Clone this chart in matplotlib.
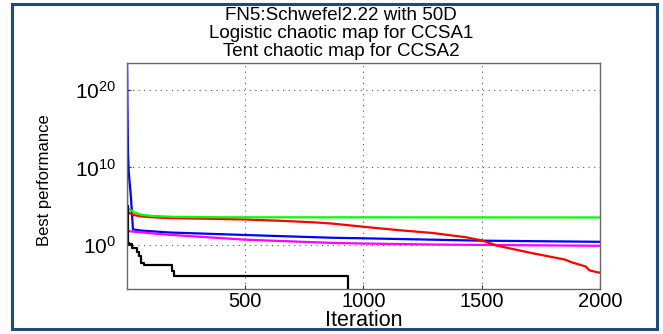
import matplotlib
matplotlib.use('Agg')
import matplotlib.pyplot as plt
from matplotlib.patches import Rectangle
from matplotlib.ticker import FixedLocator, NullLocator

plt.rcParams['font.family'] = ['Liberation Sans', 'DejaVu Sans']
plt.rcParams['mathtext.fontset'] = 'custom'
plt.rcParams['mathtext.rm'] = 'Liberation Sans'
plt.rcParams['mathtext.it'] = 'Liberation Sans'

# data (iteration, best performance)
blue_x = [1, 3, 5, 8, 18, 26, 60, 180, 500, 870, 1000, 1500, 2000]
blue_y = [1e24, 3.2e17, 1e12, 3.2e9, 1e6, 1e2, 7.1e1, 4.0e1, 1.9e1, 8.3, 7.1, 3.5, 2.5]

magenta_x = [1, 30, 180, 500, 870, 1000, 1300, 1500, 2000]
magenta_y = [6.3e1, 5.0e1, 2.0e1, 4.7, 1.8, 1.5, 1.1, 1.0, 0.76]

red_x = [1, 10, 30, 60, 100, 180, 300, 500, 650, 800, 870, 1000, 1150, 1290,
         1430, 1500, 1565, 1710, 1850, 1880, 1940, 1955, 2000]
red_y = [3.2e4, 1.3e4, 7.1e3, 4.8e3, 3.8e3, 2.9e3, 2.5e3, 1.9e3, 1.3e3, 7.9e2,
         5.6e2, 2.2e2, 7.9e1, 3.5e1, 1.0e1, 3.8, 0.79, 8.9e-2, 1.3e-2, 5.6e-3,
         1.6e-3, 5.0e-4, 2.5e-4]

green_x = [1, 10, 30, 60, 100, 200, 400, 2000]
green_y = [8.9e4, 4.0e4, 1.6e4, 7.9e3, 5.6e3, 4.2e3, 3.7e3, 3.5e3]

black_x = [1, 2, 3, 10, 22, 43, 50, 58, 72, 191, 200, 936, 2000]
black_y = [7.9e14, 1e5, 2.0, 1.3, 0.4, 0.13, 3.2e-2, 5.0e-3, 2.5e-3, 4.0e-4,
           1e-4, 1e-30, 1e-30]

title_lines = ['FN5:Schwefel2.22 with 50D',
               'Logistic chaotic map for CCSA1',
               'Tent chaotic map for CCSA2']

fig = plt.figure(figsize=(6.63, 3.34), dpi=100)
ax = fig.add_axes([0.1916, 0.1347, 0.7134, 0.6767])

lw = 1.6
ax.semilogy(blue_x, blue_y, color='#0000ff', lw=lw)
ax.semilogy(magenta_x, magenta_y, color='#ff00ff', lw=lw)
ax.semilogy(red_x, red_y, color='#ff0000', lw=lw)
ax.semilogy(green_x, green_y, color='#00ff00', lw=lw)
ax.semilogy(black_x, black_y, color='black', lw=lw, drawstyle='steps-post')

ax.set_xlim(1, 2000)
ax.set_ylim(10**-5.7, 10**23.5)
ax.xaxis.set_major_locator(FixedLocator([500, 1000, 1500, 2000]))
ax.yaxis.set_major_locator(FixedLocator([1, 1e10, 1e20]))
ax.yaxis.set_minor_locator(NullLocator())
ax.set_yticklabels(['$10^{0}$', '$10^{10}$', '$10^{20}$'])
ax.tick_params(direction='in', length=3, width=0.8, color='#333333')
ax.tick_params(axis='y', labelsize=15, pad=8)
ax.tick_params(axis='x', labelsize=14.5, pad=2)
ax.grid(True, which='major', linestyle=(0, (1, 4)), color='#555555', lw=0.8)
for s in ax.spines.values():
    s.set_color('#666666')
    s.set_linewidth(1.0)

ax.set_xlabel('Iteration', fontsize=15.5)
ax.xaxis.set_label_coords(0.5, -0.093)
ax.set_ylabel('Best performance', fontsize=12)
ax.yaxis.set_label_coords(-0.158, 0.48)

for i, line in enumerate(title_lines):
    fig.text(0.5145, 0.955 - i * 0.054, line, ha='center', va='center',
             fontsize=13.5)

fig.patches.append(Rectangle((0.018, 0.014), 0.973, 0.974,
                             transform=fig.transFigure, fill=False,
                             edgecolor='#1f4a7e', lw=2.2))

fig.savefig('out.png', dpi=100)
